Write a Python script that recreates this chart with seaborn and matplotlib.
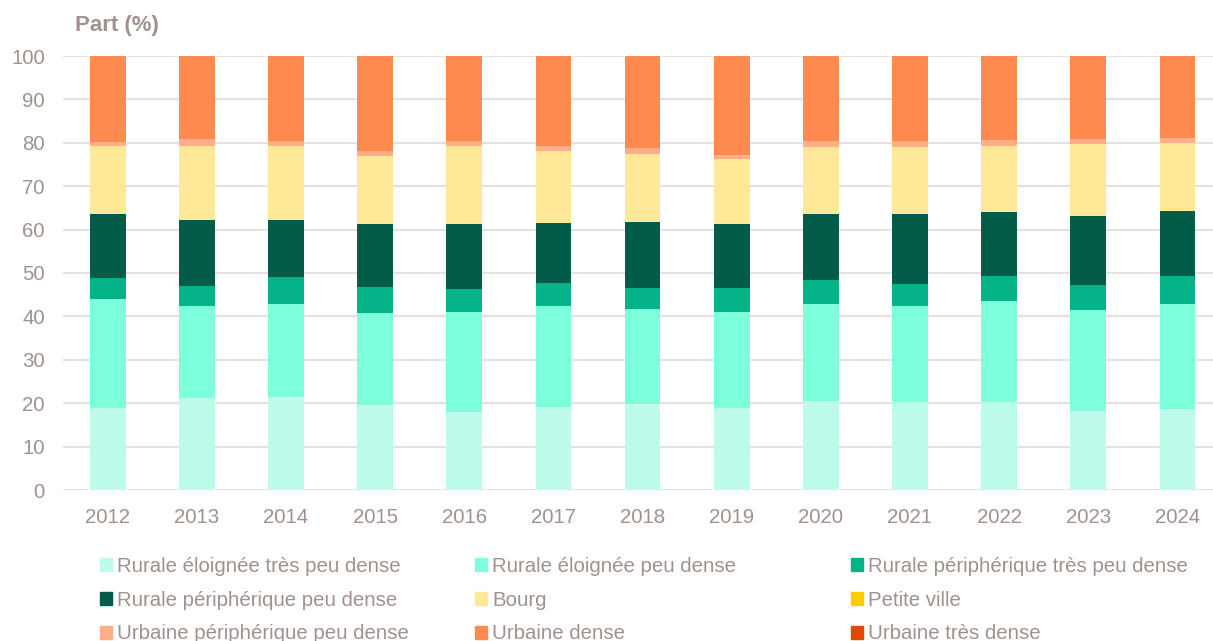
import numpy as np
import pandas as pd
import matplotlib
matplotlib.use('Agg')
import matplotlib.pyplot as plt
import matplotlib.patches as mpatches
import seaborn as sns

years = ['2012', '2013', '2014', '2015', '2016', '2017', '2018',
         '2019', '2020', '2021', '2022', '2023', '2024']

# parts (%) par type de territoire
rurale_eloignee_tres_peu_dense = [18.9, 21.2, 21.5, 19.5, 17.9, 19.1, 19.8, 18.8, 20.5, 20.2, 20.2, 18.1, 18.7]
rurale_eloignee_peu_dense = [25.2, 21.3, 21.3, 21.3, 23.2, 23.3, 22.0, 22.2, 22.3, 22.2, 23.4, 23.4, 24.2]
rurale_peri_tres_peu_dense = [4.8, 4.6, 6.2, 6.0, 5.1, 5.4, 4.8, 5.5, 5.5, 5.1, 5.6, 5.8, 6.5]
rurale_peri_peu_dense = [14.6, 15.0, 13.3, 14.6, 15.1, 13.7, 15.2, 14.9, 15.3, 16.1, 14.9, 15.9, 14.8]
bourg = [15.7, 17.2, 16.9, 15.5, 18.0, 16.6, 15.7, 14.8, 15.4, 15.4, 15.1, 16.6, 15.7]
petite_ville = [0, 0, 0, 0, 0, 0, 0, 0, 0, 0, 0, 0, 0]
urbaine_peri_peu_dense = [0.9, 1.5, 1.1, 1.1, 1.2, 1.1, 1.2, 0.9, 1.5, 1.4, 1.4, 1.0, 1.2]
urbaine_dense = [19.9, 19.2, 19.7, 22.0, 19.5, 20.8, 21.3, 22.9, 19.5, 19.6, 19.4, 19.2, 18.9]
urbaine_tres_dense = [0, 0, 0, 0, 0, 0, 0, 0, 0, 0, 0, 0, 0]

labels = ['Rurale éloignée très peu dense', 'Rurale éloignée peu dense',
          'Rurale périphérique très peu dense', 'Rurale périphérique peu dense',
          'Bourg', 'Petite ville', 'Urbaine périphérique peu dense',
          'Urbaine dense', 'Urbaine très dense']
series = [rurale_eloignee_tres_peu_dense, rurale_eloignee_peu_dense,
          rurale_peri_tres_peu_dense, rurale_peri_peu_dense, bourg,
          petite_ville, urbaine_peri_peu_dense, urbaine_dense, urbaine_tres_dense]
colors = ['#BDFCEA', '#7DFFDC', '#04B488', '#035C47', '#FFE999',
          '#FFCC00', '#FFAE8A', '#FF8A50', '#E04A00']

txt = '#A0918C'
fs = 14.7

sns.set_style('white')
plt.rcParams['font.family'] = ['Liberation Sans', 'DejaVu Sans']

fig = plt.figure(figsize=(12.13, 6.41), dpi=100)
ax = fig.add_axes([63 / 1213, 1 - 490 / 641, 1150 / 1213, 434 / 641])

bottom = np.zeros(len(years))
for vals, c in zip(series, colors):
    sns.barplot(x=years, y=vals, bottom=bottom, color=c, width=0.4,
                linewidth=0, saturation=1, ax=ax)
    bottom = bottom + np.array(vals)

ax.set_ylim(0, 100)
ax.set_xlim(-0.502, 12.40)
ax.set_yticks(range(0, 101, 10))
ax.grid(axis='y', color='#E6E0E0', linewidth=1.5)
ax.set_axisbelow(True)
for s in ax.spines.values():
    s.set_visible(False)
ax.tick_params(axis='both', length=0, labelsize=fs, colors=txt)
ax.tick_params(axis='x', pad=13)
ax.tick_params(axis='y', pad=13)
ax.set_xlabel('')
ax.set_ylabel('')

fig.text(75 / 1213, 1 - 25 / 641, 'Part (%)', fontsize=16, fontweight='bold',
         color=txt, va='center', ha='left')

# légende en 3 colonnes, lue ligne par ligne
handles = [mpatches.Patch(color=c, label=l) for c, l in zip(colors, labels)]
col_x = [100, 475, 851]
for i, x in enumerate(col_x):
    hs = [handles[i], handles[i + 3], handles[i + 6]]
    leg = fig.legend(handles=hs, loc='upper left',
                     bbox_to_anchor=(x / 1213, 1 - 557 / 641),
                     frameon=False, fontsize=fs, labelcolor=txt,
                     handlelength=0.6, handleheight=0.6, handletextpad=0.25,
                     labelspacing=0.72, borderpad=0, borderaxespad=0)

fig.savefig('out.png', dpi=100)
